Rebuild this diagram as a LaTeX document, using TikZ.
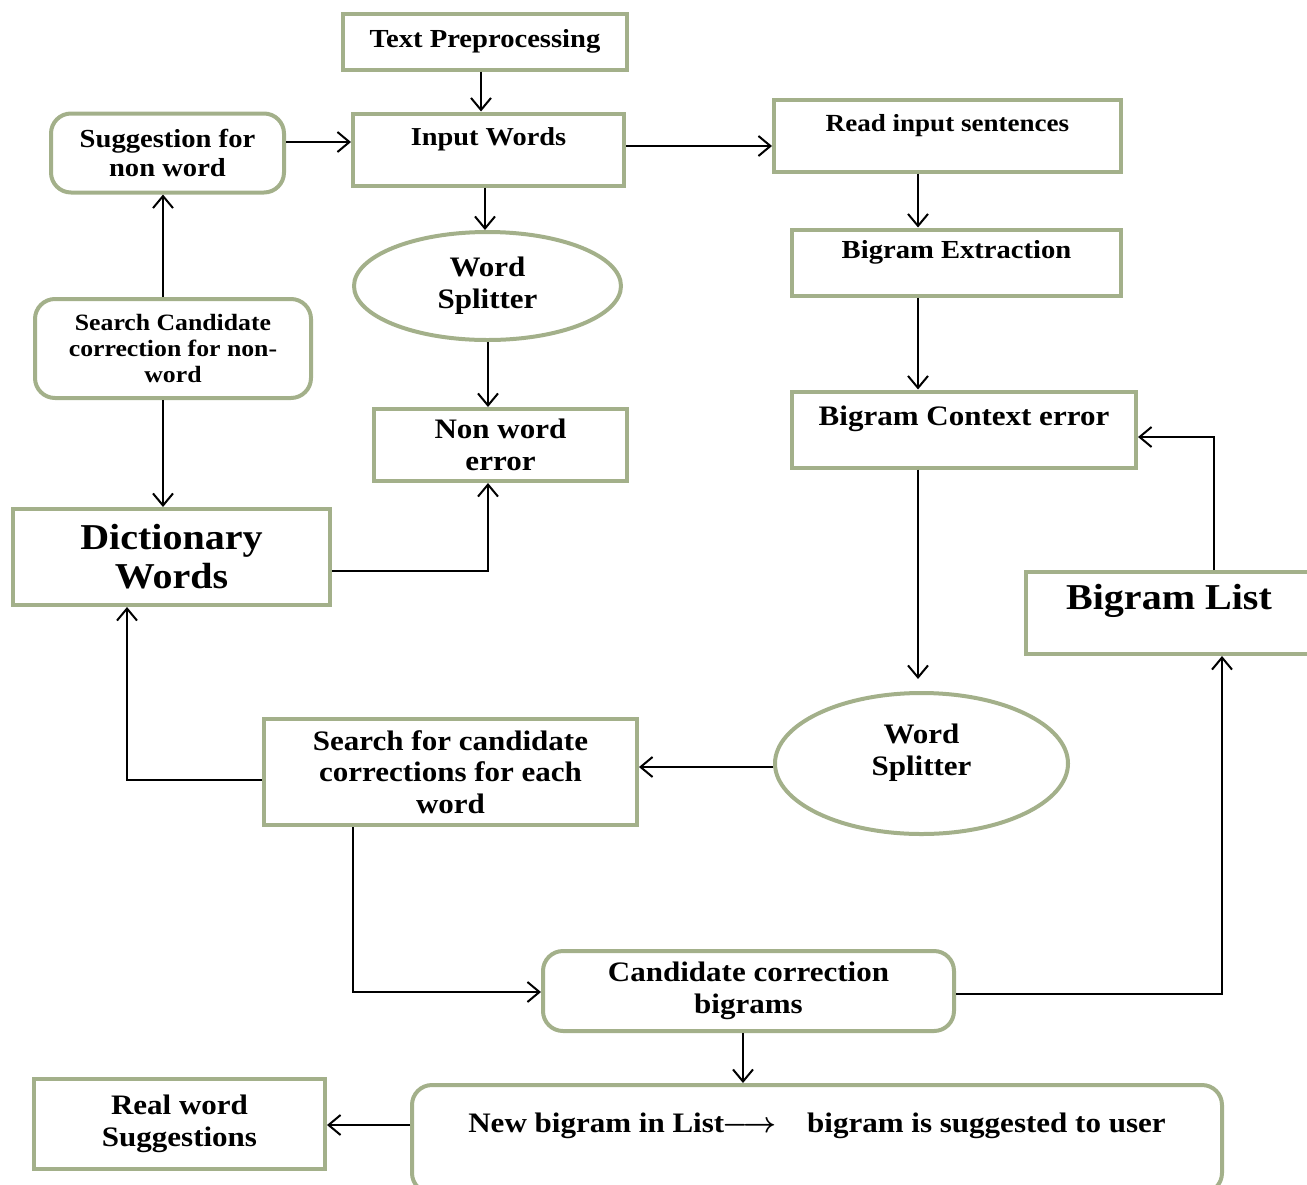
\documentclass[tikz,border=0pt]{standalone}
\usepackage{fontspec}
\setmainfont{Liberation Serif}[FakeStretch=1.1]
\usetikzlibrary{shapes.geometric,arrows.meta}
\definecolor{boxgreen}{RGB}{163,176,138}
\tikzstyle{process} = [draw=boxgreen, line width=2pt, rectangle, inner sep=2pt, align=center, font=\bfseries\fontsize{14.1}{15.8}\selectfont]
\tikzstyle{rounded process} = [process, rounded corners=10pt]
\tikzstyle{splitter} = [process, ellipse]
\tikzstyle{plain font} = [font=\bfseries\fontsize{13}{14.5}\selectfont]
\tikzstyle{small font} = [font=\bfseries\fontsize{11.7}{12.8}\selectfont]
\tikzstyle{big font} = [font=\bfseries\fontsize{18.2}{19.5}\selectfont]
\tikzstyle{edge} = [draw, line width=1pt, -{Straight Barb[length=6pt,width=10pt]}]
\tikzset{
  boxsize/.style 2 args={minimum width=#1*0.5pt, minimum height=#2*0.5pt},
  liftup/.style={text depth=#1}
}

\begin{document}
\begin{tikzpicture}[x=0.5pt, y=-0.5pt]
  \useasboundingbox (0,0) rectangle (1307,1184);

  % Non-word branch
  \node[process, plain font, boxsize={284}{56}] (textpre) at (485,41.5) {Text Preprocessing};
  \node[process, font=\bfseries\fontsize{12.9}{14.5}\selectfont, boxsize={271}{72}, liftup=12.8pt] (input) at (488.5,149.5) {Input Words};
  \node[rounded process, plain font, boxsize={233}{79}] (sugg) at (167.5,153) {Suggestion for\\non word};
  \node[splitter, boxsize={267}{108}] (split1) at (487.5,286) {Word\\Splitter};
  \node[rounded process, small font, boxsize={276}{99}] (searchcand) at (173,348.5) {Search Candidate\\correction for non-\\word};
  \node[process, boxsize={253}{72}] (nonword) at (500.5,445) {Non word\\error};
  \node[process, big font, boxsize={317}{96}] (dict) at (171.5,557) {Dictionary\\Words};

  % Real-word branch
  \node[process, font=\bfseries\fontsize{12.3}{14}\selectfont, boxsize={347}{72}, liftup=12.7pt] (read) at (947.5,135.5) {Read input sentences};
  \node[process, plain font, boxsize={329}{66}, liftup=12.8pt] (bigext) at (956.5,262.5) {Bigram Extraction};
  \node[process, boxsize={344}{76}, liftup=14pt] (bigctx) at (964,429.5) {Bigram Context error};
  \node[process, big font, boxsize={286}{82}, liftup=16pt] (biglist) at (1169,613) {Bigram List};
  \node[splitter, boxsize={293}{141}, liftup=14pt] (split2) at (921.5,763.5) {Word\\Splitter};
  \node[process, boxsize={373}{106}] (searchfor) at (450.5,772) {Search for candidate\\corrections for each\\word};
  \node[rounded process, boxsize={411}{80}] (cand) at (748.5,991) {Candidate correction\\bigrams};
  \node[process, boxsize={291}{90}] (real) at (179.5,1124) {Real word\\Suggestions};
  \node[rounded process, boxsize={810}{108}, liftup=16pt] (newbig) at (817,1139) {New bigram in List\hspace{-0.05em}{\boldmath$\longrightarrow$}\hspace{1.1em}bigram is suggested to user};

  % Straight downward connections
  \foreach \source/\dest/\xpos in {textpre/input/481, input/split1/485, split1/nonword/488, read/bigext/918, bigext/bigctx/918, cand/newbig/743}
    \path[edge] (\source.south -| \xpos,0) -- (\dest.north -| \xpos,0);
  \path[edge, shorten >=6pt] (bigctx.south -| 918,0) -- (split2.north -| 918,0);
  \path[edge] (searchcand.south -| 163,0) -- (dict.north -| 163,0);

  % Upward and sideways connections
  \path[edge] (searchcand.north -| 163,0) -- (sugg.south -| 163,0);
  \path[edge] (sugg.east |- 0,142) -- (input.west |- 0,142);
  \path[edge] (input.east |- 0,146) -- (read.west |- 0,146);
  \path[edge] (split2.west |- 0,767) -- (searchfor.east |- 0,767);
  \path[edge] (newbig.west |- 0,1125) -- (real.east |- 0,1125);

  % Elbow connections
  \path[edge] (dict.east |- 0,571) -| (nonword.south -| 488,0);
  \path[edge] (searchfor.west |- 0,780) -| (dict.south -| 127,0);
  \path[edge] (searchfor.south -| 353,0) |- (cand.west |- 0,992);
  \path[edge] (cand.east |- 0,994) -| (biglist.south -| 1222,0);
  \path[edge] (biglist.north -| 1214,0) |- (bigctx.east |- 0,437);
\end{tikzpicture}
\end{document}
